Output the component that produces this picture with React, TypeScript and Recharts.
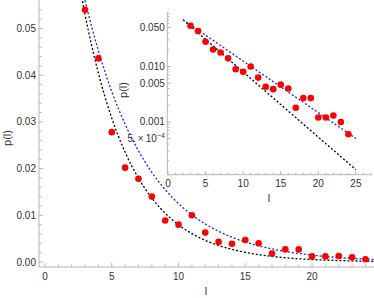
import { ComposedChart, Line, Scatter, XAxis, YAxis } from "recharts";

// l values and measured p(l)
const pointL = [3, 4, 5, 6, 7, 8, 9, 10, 11, 12, 13, 14, 15, 16, 17, 18, 19, 20, 21, 22, 23, 24];
const pointP = [
  0.0540, 0.0436, 0.0278, 0.0202, 0.0178, 0.0140, 0.0089, 0.0080, 0.0100, 0.0063, 0.0043,
  0.0039, 0.0047, 0.0040, 0.0018, 0.0027, 0.0027, 0.0012, 0.0012, 0.0013, 0.0010, 0.0006
];

// the two dashed fit curves
const curveL = [2, 3, 4, 5, 6, 7, 8, 9, 10, 11, 12, 13, 14, 15, 16, 17, 18, 19, 20, 21, 22, 23, 24, 25];
const blackFit = [
  0.0694, 0.0530, 0.0404, 0.0308, 0.0235, 0.01795, 0.01369, 0.01045, 0.00797, 0.00608, 0.00464,
  0.00354, 0.0027, 0.00206, 0.00157, 0.0012, 0.000915, 0.000698, 0.000533, 0.000406, 0.00031,
  0.000237, 0.000181, 0.000138
];
const blueFit = [
  0.0694, 0.0560, 0.0452, 0.0365, 0.0295, 0.0238, 0.0192, 0.0155, 0.01251, 0.0101, 0.00815,
  0.00658, 0.00531, 0.00429, 0.00346, 0.0028, 0.00226, 0.00182, 0.00147, 0.00119, 0.000958,
  0.000774, 0.000625, 0.000504
];

const mainXTicks = [0, 1, 2, 3, 4, 5, 6, 7, 8, 9, 10, 11, 12, 13, 14, 15, 16, 17, 18, 19, 20, 21, 22, 23, 24];
const mainYTicks = [
  0, 0.002, 0.004, 0.006, 0.008, 0.01, 0.012, 0.014, 0.016, 0.018, 0.02, 0.022, 0.024, 0.026,
  0.028, 0.03, 0.032, 0.034, 0.036, 0.038, 0.04, 0.042, 0.044, 0.046, 0.048, 0.05, 0.052, 0.054
];
const insetXTicks = [0, 1, 2, 3, 4, 5, 6, 7, 8, 9, 10, 11, 12, 13, 14, 15, 16, 17, 18, 19, 20, 21, 22, 23, 24, 25, 26, 27];
const insetYTicks = [
  0.0002, 0.0003, 0.0004, 0.0005, 0.0006, 0.0007, 0.0008, 0.0009, 0.001, 0.002, 0.003, 0.004,
  0.005, 0.006, 0.007, 0.008, 0.009, 0.01, 0.02, 0.03, 0.04, 0.05, 0.06, 0.07, 0.08, 0.09
];
const insetYLabels: Record<string, string> = {
  "0.05": "0.050",
  "0.01": "0.010",
  "0.005": "0.005",
  "0.001": "0.001",
  "0.0005": "5e-4"
};

const points = pointL.map((l, i) => ({ l, p: pointP[i] }));
const curves = curveL.map((l, i) => ({ l, black: blackFit[i], blue: blueFit[i] }));

const FONT = "'Liberation Sans', Arial, sans-serif";
const AXIS = "#b4b4b4";
const TEXT = "#333";

const dot = (props: any) => <circle cx={props.cx} cy={props.cy} r={3.3} fill="#ff0000" />;

const MainYTick = ({ x, y, payload }: any) => {
  const v = payload.value;
  const major = Math.abs(v * 100 - Math.round(v * 100)) < 1e-6;
  return (
    <g>
      <line x1={x} x2={x + (major ? 4 : 2.5)} y1={y} y2={y} stroke={AXIS} />
      {major && (
        <text x={x - 3} y={y} dy="0.35em" textAnchor="end" fontSize={10} fill={TEXT} fontFamily={FONT}>
          {v.toFixed(2)}
        </text>
      )}
    </g>
  );
};

const MainXTick = ({ x, y, payload }: any) => {
  const v = payload.value;
  const major = v % 5 === 0;
  return (
    <g>
      <line x1={x} x2={x} y1={y} y2={y - (major ? 4 : 2.5)} stroke={AXIS} />
      {major && (
        <text x={x} y={y + 12.5} textAnchor="middle" fontSize={10} fill={TEXT} fontFamily={FONT}>
          {v}
        </text>
      )}
    </g>
  );
};

const InsetXTick = ({ x, y, payload }: any) => {
  const v = payload.value;
  const major = v % 5 === 0;
  return (
    <g>
      <line x1={x} x2={x} y1={y} y2={y - (major ? 3.5 : 2)} stroke={AXIS} />
      {major && (
        <text x={x} y={y + 12} textAnchor="middle" fontSize={10} fill={TEXT} fontFamily={FONT}>
          {v}
        </text>
      )}
    </g>
  );
};

const InsetYTick = ({ x, y, payload }: any) => {
  const key = String(payload.value);
  const label = insetYLabels[key];
  return (
    <g>
      <line x1={x} x2={x + (label ? 3.5 : 2)} y1={y} y2={y} stroke={AXIS} />
      {label && label !== "5e-4" && (
        <text x={x - 2.5} y={y} dy="0.35em" textAnchor="end" fontSize={10} fill={TEXT} fontFamily={FONT}>
          {label}
        </text>
      )}
      {label === "5e-4" && (
        <text x={x - 2.5} y={y} dy="0.35em" textAnchor="end" fontSize={10} fill={TEXT} fontFamily={FONT}>
          5.{"\u2009"}×{"\u2009"}10
          <tspan dy={-4} fontSize={7}>
            −4
          </tspan>
        </text>
      )}
    </g>
  );
};

export default function App() {
  return (
    <div style={{ position: "relative", width: 374, height: 298, background: "#fff" }}>
      <style>{`body{margin:0}`}</style>
      <div style={{ position: "absolute", left: 0, top: 0 }}>
        <ComposedChart width={374} height={298} margin={{ top: 0, right: 0, bottom: 0, left: 0 }}>
          <XAxis
            dataKey="l"
            type="number"
            domain={[-0.45, 24.64]}
            allowDataOverflow
            ticks={mainXTicks}
            interval={0}
            height={31}
            tickSize={0}
            tickMargin={0}
            tickLine={false}
            axisLine={{ stroke: AXIS }}
            tick={<MainXTick />}
          />
          <YAxis
            type="number"
            domain={[-0.00107, 0.0561]}
            allowDataOverflow
            ticks={mainYTicks}
            interval={0}
            width={39}
            tickSize={0}
            tickMargin={0}
            tickLine={false}
            axisLine={{ stroke: AXIS }}
            tick={<MainYTick />}
          />
          <Scatter data={points} dataKey="p" shape={dot} isAnimationActive={false} />
          <Line
            data={curves}
            dataKey="black"
            type="monotone"
            stroke="#000"
            strokeWidth={1.3}
            strokeDasharray="2 2"
            dot={false}
            isAnimationActive={false}
          />
          <Line
            data={curves}
            dataKey="blue"
            type="monotone"
            stroke="#1f1fff"
            strokeWidth={1.3}
            strokeDasharray="2 2"
            dot={false}
            isAnimationActive={false}
          />
        </ComposedChart>
        <svg width={374} height={298} style={{ position: "absolute", left: 0, top: 0, pointerEvents: "none" }}>
          <text x={0} y={0} transform="translate(11,138) rotate(-90)" textAnchor="middle" fontSize={11} fill={TEXT} fontFamily={FONT}>
            p(l)
          </text>
          <text x={206} y={295} textAnchor="middle" fontSize={11} fill={TEXT} fontFamily={FONT}>
            l
          </text>
          <text x={0} y={0} transform="translate(127,90) rotate(-90)" textAnchor="middle" fontSize={11} fill={TEXT} fontFamily={FONT}>
            p(l)
          </text>
          <text x={269} y={202} textAnchor="middle" fontSize={11} fill={TEXT} fontFamily={FONT}>
            l
          </text>
        </svg>
      </div>
      <div style={{ position: "absolute", left: 120, top: 0 }}>
        <ComposedChart width={254} height={210} margin={{ top: 11.7, right: 2.3, bottom: 0, left: 0 }}>
          <XAxis
            dataKey="l"
            type="number"
            domain={[-0.09, 27.1]}
            allowDataOverflow
            ticks={insetXTicks}
            interval={0}
            height={35.3}
            tickSize={0}
            tickMargin={0}
            tickLine={false}
            axisLine={{ stroke: AXIS }}
            tick={<InsetXTick />}
          />
          <YAxis
            type="number"
            scale="log"
            domain={[0.000112, 0.097]}
            allowDataOverflow
            ticks={insetYTicks}
            interval={0}
            width={47.3}
            tickSize={0}
            tickMargin={0}
            tickLine={false}
            axisLine={{ stroke: AXIS }}
            tick={<InsetYTick />}
          />
          <Scatter data={points} dataKey="p" shape={dot} isAnimationActive={false} />
          <Line
            data={curves}
            dataKey="black"
            type="linear"
            stroke="#000"
            strokeWidth={1.3}
            strokeDasharray="2 2"
            dot={false}
            isAnimationActive={false}
          />
          <Line
            data={curves}
            dataKey="blue"
            type="linear"
            stroke="#1f1fff"
            strokeWidth={1.3}
            strokeDasharray="2 2"
            dot={false}
            isAnimationActive={false}
          />
        </ComposedChart>
      </div>
    </div>
  );
}
